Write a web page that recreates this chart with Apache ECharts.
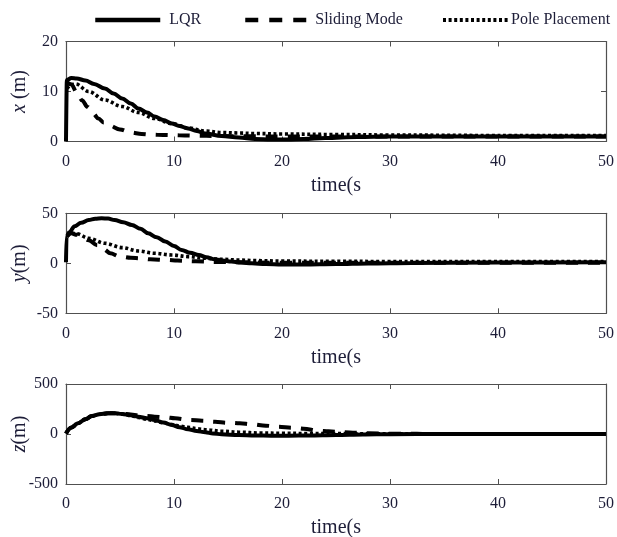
<!DOCTYPE html>
<html><head><meta charset="utf-8">
<script src="https://cdn.jsdelivr.net/npm/echarts@6/dist/echarts.min.js"></script>
<style>html,body{margin:0;padding:0;background:#fff}#c{width:617px;height:537px}</style>
</head><body><div id="c"></div>
<script>
// ---------- DATA ----------
const seriesNames = ['LQR', 'Sliding Mode', 'Pole Placement'];
const xAxisTitle = 'time(s';
const yAxisTitles = [['x', ' (m)'], ['y', '(m)'], ['z', '(m)']];
const yRanges = [[0, 20, 10], [-50, 50, 50], [-500, 500, 500]];

// Panel 1: x(m)
const xLqrT = [0, 0.08, 0.5, 1, 1.8, 2.6, 3.6, 4.4, 5.2, 6, 6.7, 7.5, 8.2, 9, 9.8, 10.5, 11.3, 12.1, 12.9, 14.4, 16, 17.5, 19, 20.5, 22, 24, 27, 30, 35, 40, 45, 50];
const xLqrV = [0, 12.3, 12.7, 12.6, 12.2, 11.5, 10.6, 9.6, 8.6, 7.6, 6.6, 5.8, 5.0, 4.3, 3.6, 3.1, 2.6, 2.1, 1.6, 1.1, 0.8, 0.5, 0.4, 0.4, 0.5, 0.7, 0.9, 1.0, 1.0, 1.0, 1.0, 1.0];
const xSmcT = [0.1, 0.5, 1, 1.5, 2, 2.5, 3, 3.5, 4, 5, 6, 7, 8, 9, 10, 11, 12, 14, 17, 20, 25, 30, 40, 50];
const xSmcV = [11.8, 11.4, 9.8, 8.2, 6.9, 5.6, 4.6, 3.8, 3.2, 2.4, 1.8, 1.5, 1.35, 1.3, 1.25, 1.2, 1.15, 1.1, 1.05, 1.0, 1.0, 1.0, 1.0, 1.0];
const xPoleT = [0.1, 0.5, 0.9, 2.1, 3.6, 5.2, 6.7, 8.2, 9.8, 11.3, 12.9, 14.4, 16, 17.5, 20, 25, 30, 40, 50];
const xPoleV = [10.6, 11.4, 11.5, 10.0, 8.3, 7.0, 5.8, 4.6, 3.6, 2.7, 2.1, 1.8, 1.7, 1.6, 1.5, 1.4, 1.3, 1.2, 1.2];

// Panel 2: y(m)
const yLqrT = [0, 0.05, 0.3, 0.8, 1.4, 2.1, 2.7, 3.3, 3.9, 4.5, 5.3, 6.1, 6.9, 7.6, 8.4, 9.2, 10, 10.7, 11.5, 12.3, 13, 13.8, 14.5, 15.3, 16.2, 17.2, 18.5, 20, 22, 25, 28, 32, 40, 50];
const yLqrV = [1, 27, 31, 37, 40.5, 43.3, 44.5, 45, 44.7, 43.3, 41, 38.3, 34.5, 30, 26, 21.7, 17.3, 13.3, 10.5, 8.3, 6, 4, 2.8, 1.7, 0.7, 0, -0.8, -1.3, -1.3, -0.8, -0.2, 0.3, 0.8, 1];
const ySmcT = [0.1, 0.5, 1, 1.5, 2.1, 2.9, 3.5, 4.1, 5, 6, 6.9, 7.8, 9.4, 10.3, 12, 14, 16, 20, 25, 30, 40, 50];
const ySmcV = [27, 30, 28.5, 26, 23, 18, 14, 10, 6.7, 5.5, 5, 4, 3.3, 2.7, 2, 1.3, 1, 0.5, 0.5, 0.5, 0.5, 0.5];
const yPoleT = [0.1, 0.5, 1, 2.1, 3.6, 5.2, 6.7, 8.2, 9.8, 11.3, 12.9, 14.4, 16, 17.5, 20, 25, 30, 40, 50];
const yPoleV = [27, 30, 29.5, 25, 20, 15.7, 12.3, 10, 8.3, 6.7, 5, 4, 3.3, 2.7, 2.2, 2, 1.8, 1.8, 1.8];

// Panel 3: z(m)
const zLqrT = [0, 0.5, 1.1, 1.8, 2.4, 3.1, 3.9, 4.5, 5.2, 6, 6.7, 7.5, 8.2, 9, 9.8, 10.5, 11.3, 12.1, 12.9, 13.6, 14.4, 16, 17.5, 19, 20.6, 22.5, 25, 27.5, 30, 35, 40, 50];
const zLqrV = [5, 65, 107, 148, 180, 198, 207, 208, 200, 188, 173, 157, 140, 115, 90, 68, 47, 30, 17, 6, -3, -10, -15, -17, -17, -15, -10, -5, -2, 0, 0, 0];
const zSmcT = [0, 0.5, 1.1, 1.8, 2.4, 3.1, 3.9, 4.5, 5.2, 6, 6.7, 7.5, 8.2, 9.2, 10.1, 11.5, 12.6, 13.8, 14.9, 16.1, 17.2, 18.5, 19.6, 21, 22, 23.4, 24.3, 25.7, 26.8, 28, 30, 35, 40, 50];
const zSmcV = [5, 65, 107, 148, 180, 198, 207, 208, 203, 195, 187, 180, 173, 167, 157, 140, 133, 123, 113, 107, 97, 83, 73, 63, 53, 33, 27, 17, 13, 8, 3, 0, 0, 0];
const zPoleT = [0, 0.5, 1.1, 1.8, 2.4, 3.1, 3.9, 4.5, 5.2, 6, 6.7, 7.5, 8.2, 9, 9.8, 10.5, 11.3, 12.1, 12.9, 14.4, 16, 18, 20, 22.5, 25, 28, 30, 35, 40, 50];
const zPoleV = [5, 65, 107, 148, 180, 198, 207, 208, 200, 183, 165, 148, 130, 112, 95, 80, 66, 54, 43, 28, 18, 10, 7, 5, 4, 2, 1, 0, 0, 0];

// ---------- CHART ----------
const FONT = 'Liberation Serif';
const TXT = '#1d1d38';
const AX = '#505050';
const zip = (t, v) => t.map((x, i) => [x, v[i]]);

const panels = [
  [zip(xLqrT, xLqrV), zip(xSmcT, xSmcV), zip(xPoleT, xPoleV)],
  [zip(yLqrT, yLqrV), zip(ySmcT, ySmcV), zip(yPoleT, yPoleV)],
  [zip(zLqrT, zLqrV), zip(zSmcT, zSmcV), zip(zPoleT, zPoleV)]
];
const lineStyles = [
  { color: '#000', width: 4, type: 'solid' },
  { color: '#000', width: 4, type: [12, 10], cap: 'butt' },
  { color: '#000', width: 3.6, type: [3, 2.6], cap: 'butt' }
];
const legendLineStyles = [
  { color: '#000', width: 4.5, type: 'solid' },
  { color: '#000', width: 4.5, type: [13, 11], cap: 'butt' },
  { color: '#000', width: 4, type: [3, 2.6], cap: 'butt' }
];
const gridTops = [41.5, 213.3, 384];

const grid = gridTops.map(t => ({ left: 66, right: 11, top: t, height: 100, containLabel: false, outerBoundsMode: 'none' }));
const xAxis = [], yAxis = [], series = [];
gridTops.forEach((t, i) => {
  const tick = { show: true, inside: true, length: 5, lineStyle: { color: AX, width: 1 } };
  const line = { show: true, onZero: false, lineStyle: { color: AX, width: 1.2 } };
  xAxis.push({
    type: 'value', gridIndex: i, min: 0, max: 50, interval: 10, position: 'bottom',
    axisLine: line, axisTick: tick, splitLine: { show: false },
    axisLabel: { fontFamily: FONT, fontSize: 16, color: TXT, margin: 12 },
    name: xAxisTitle, nameLocation: 'middle', nameGap: 34, nameMoveOverlap: false,
    nameTextStyle: { fontFamily: FONT, fontSize: 20, color: TXT }
  });
  xAxis.push({
    type: 'value', gridIndex: i, min: 0, max: 50, interval: 10, position: 'top',
    axisLine: line, axisTick: tick, splitLine: { show: false }, axisLabel: { show: false }
  });
  const r = yRanges[i];
  yAxis.push({
    type: 'value', gridIndex: i, min: r[0], max: r[1], interval: r[2], position: 'left',
    axisLine: line, axisTick: tick, splitLine: { show: false },
    axisLabel: { fontFamily: FONT, fontSize: 16, color: TXT, margin: 8 },
    name: '{i|' + yAxisTitles[i][0] + '}{n|' + yAxisTitles[i][1] + '}',
    nameLocation: 'middle', nameGap: 36, nameRotate: 90, nameMoveOverlap: false,
    nameTextStyle: {
      fontFamily: FONT, fontSize: 20, color: TXT,
      rich: {
        i: { fontFamily: FONT, fontSize: 20, fontStyle: 'italic', color: TXT },
        n: { fontFamily: FONT, fontSize: 20, color: TXT }
      }
    }
  });
  yAxis.push({
    type: 'value', gridIndex: i, min: r[0], max: r[1], interval: r[2], position: 'right',
    axisLine: line, axisTick: tick, splitLine: { show: false }, axisLabel: { show: false }
  });
  // draw order: pole, sliding, LQR on top
  [2, 1, 0].forEach(k => {
    series.push({
      type: 'line', name: seriesNames[k], xAxisIndex: 2 * i, yAxisIndex: 2 * i,
      data: panels[i][k], showSymbol: false, symbol: 'none',
      smooth: 0.35, smoothMonotone: 'x',
      itemStyle: { color: '#000' },
      lineStyle: lineStyles[k], z: 3 + (2 - k), animation: false
    });
  });
});

const legendLefts = [93, 243, 441];
const legendTextPad = [4, 0, -2];
const legend = seriesNames.map((n, k) => ({
  data: [n], left: legendLefts[k], top: 12, padding: 0,
  itemWidth: 65, itemHeight: 16, selectedMode: false,
  itemStyle: { opacity: 0, borderWidth: 0 },
  lineStyle: legendLineStyles[k],
  textStyle: { fontFamily: FONT, fontSize: 16, color: TXT, padding: [0, 0, 0, legendTextPad[k]] }
}));

const chart = echarts.init(document.getElementById('c'), null, { renderer: 'canvas' });
chart.setOption({ animation: false, backgroundColor: '#fff', grid, xAxis, yAxis, series, legend });
</script>
</body></html>
